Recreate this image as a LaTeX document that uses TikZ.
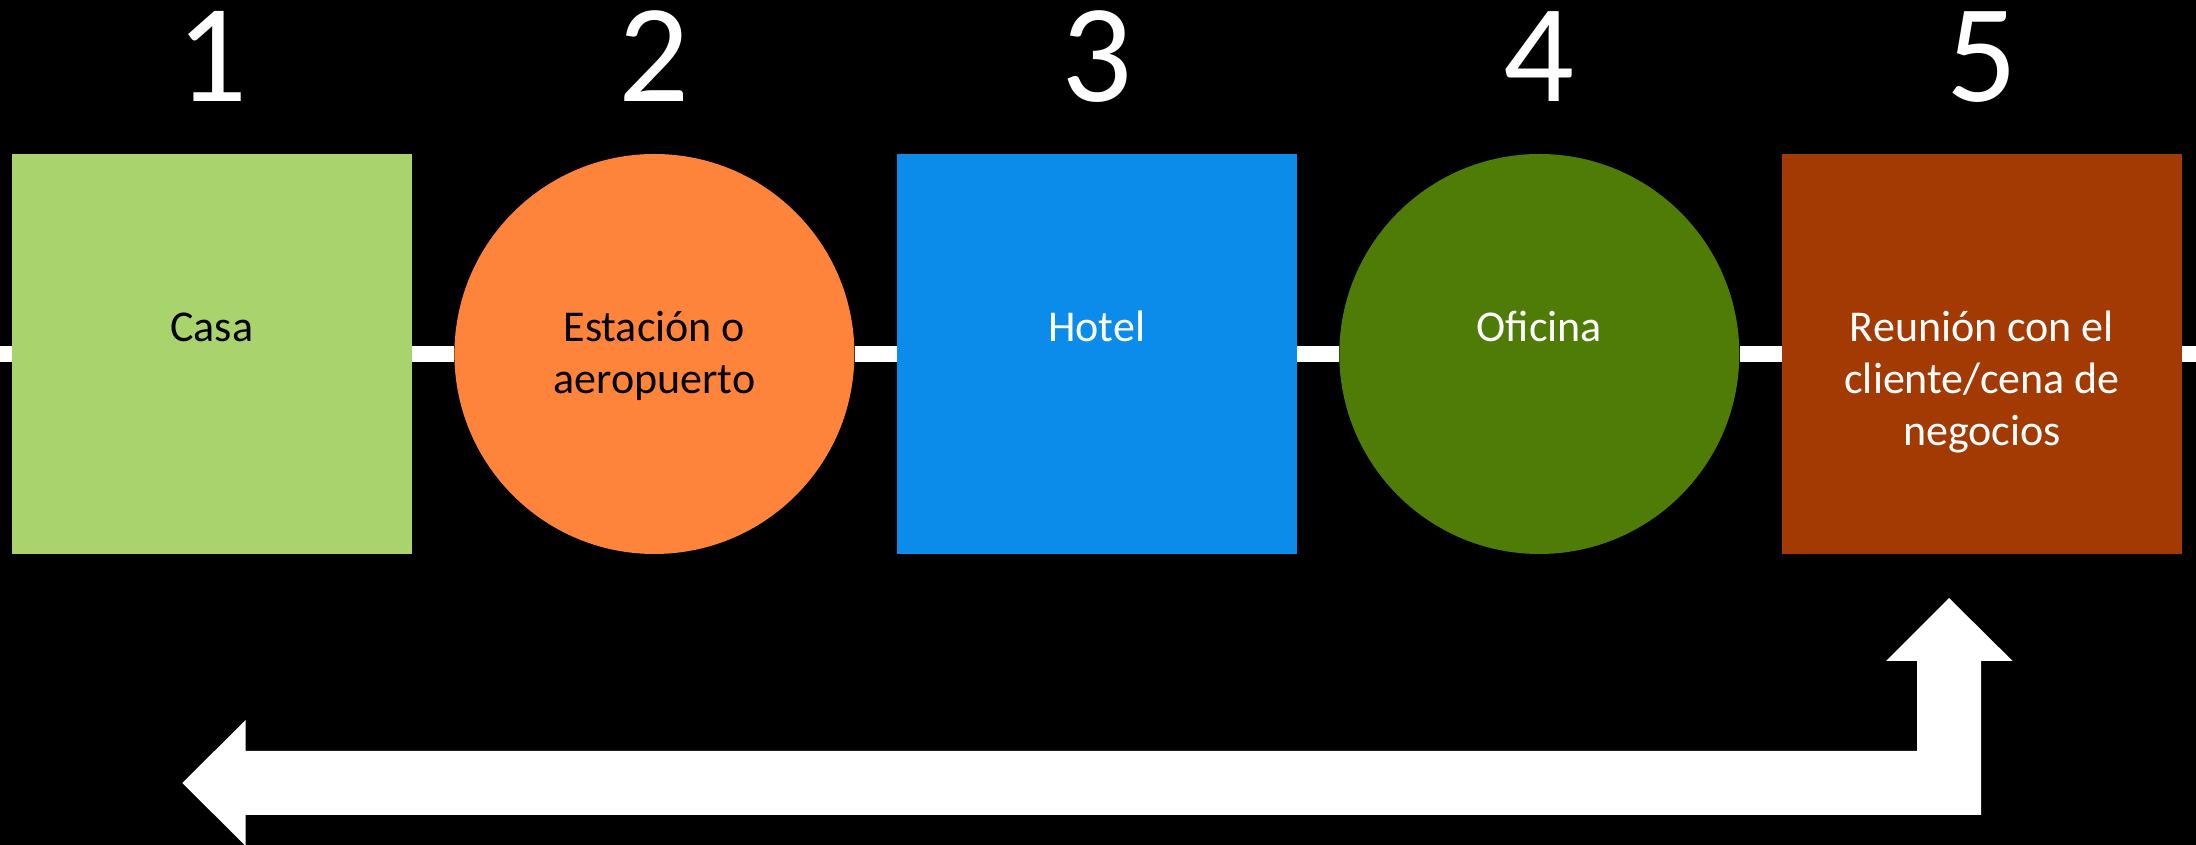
\documentclass[tikz,border=0pt]{standalone}
\usepackage{fontspec}
\setmainfont{Carlito}
\definecolor{cA}{HTML}{A9D46D}
\definecolor{cB}{HTML}{FF843B}
\definecolor{cC}{HTML}{0B8CEA}
\definecolor{cD}{HTML}{4E7C07}
\definecolor{cE}{HTML}{A33A03}
\tikzset{
  sq/.style={rectangle, minimum width=400pt, minimum height=400pt, inner sep=0pt, draw=none},
  rnd/.style={circle, minimum size=400pt, inner sep=0pt, draw=none},
  lbl/.style={anchor=base, inner sep=0pt, font=\fontsize{44}{52}\selectfont},
  num/.style={anchor=base, inner sep=0pt, text=white, font=\fontsize{140}{140}\selectfont},
  track/.style={draw=white, line width=16pt},
}
\newcommand{\lines}[1]{\parbox[t]{390pt}{\centering #1}}
\begin{document}
\begin{tikzpicture}[x=1pt,y=1pt]
\fill[black] (0,0) rectangle (2196,845);
\useasboundingbox (0,0) rectangle (2196,845);
\coordinate (L) at (0,491);
\coordinate (R) at (2196,491);
\node[sq, fill=cA] (s1) at (211.7,491) {};
\node[rnd, fill=cB] (s2) at (654.4,491) {};
\node[sq, fill=cC] (s3) at (1096.8,491) {};
\node[rnd, fill=cD] (s4) at (1539.3,491) {};
\node[sq, fill=cE] (s5) at (1982,491) {};
\draw[track] (L) -- (s1.west);
\draw[track] (s1) -- (s2);
\draw[track] (s2) -- (s3);
\draw[track] (s3) -- (s4);
\draw[track] (s4) -- (s5);
\draw[track] (s5.east) -- (R);
\node[lbl, text=black] (t1) at ([yshift=12pt]s1.center) {\lines{Casa}};
\node[lbl, text=black] (t2) at ([yshift=12pt]s2.center) {\lines{Estación o\\aeropuerto}};
\node[lbl, text=white] (t3) at ([yshift=12pt]s3.center) {\lines{Hotel}};
\node[lbl, text=white] (t4) at ([yshift=12pt]s4.center) {\lines{Oficina}};
\node[lbl, text=white] (t5) at ([yshift=12pt]s5.center) {\lines{Reunión con el\\cliente/cena de\\negocios}};
\node[num] (n1) at ([yshift=252.6pt]s1.center) {1};
\node[num] (n2) at ([yshift=252.6pt]s2.center) {2};
\node[num] (n3) at ([yshift=252.6pt]s3.center) {3};
\node[num] (n4) at ([yshift=252.6pt]s4.center) {4};
\node[num] (n5) at ([yshift=252.6pt]s5.center) {5};
\fill[white] (182.3,62) -- (245.7,125) -- (245.7,94) -- (1917,94) -- (1917,184)
  -- (1886,184) -- (1949,247) -- (2012.6,184) -- (1981,184) -- (1981,30)
  -- (245.7,30) -- (245.7,-1) -- cycle;
\end{tikzpicture}
\end{document}
